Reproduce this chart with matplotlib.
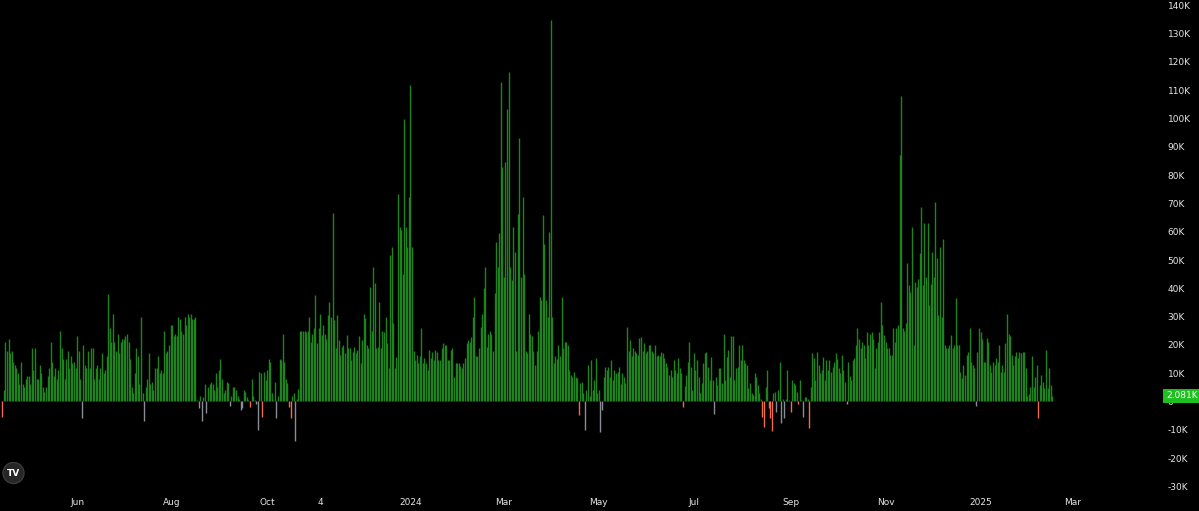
import pandas as pd
import matplotlib
matplotlib.use('Agg')
import matplotlib.pyplot as plt
from matplotlib.patches import Ellipse

# daily values in thousands, one list per month
apr23 = [-5.4, 4, 21, 18, 22, 17, 18, 14, 13, 12, 10, 6, 14, 6, 5, 8, 9]
may23 = [9, 6, 19, 11, 19, 8, 8, 13, 10, 5, 3.5, 5, 9, 12, 21, 14, 9, 12, 8, 11,
         25, 19, 15, 8, 15, 18, 12, 16, 13.5, 14, 12]
jun23 = [23, 18, 8, -6, 20, 13, 12, 18, 12, 19, 19, 8, 12, 13, 8, 12, 17, 10, 11, 16,
         38, 26, 21, 31, 21, 18, 24, 17, 21, 22]
jul23 = [22, 23, 24, 21, 15, 5, 3, 10, 19, 16, 6, 30, 3, -7, 5, 8, 17, 6, 7, 4,
         12, 12, 16, 10, 11, 10, 25, 17, 18, 20, 27]
aug23 = [27, 23, 24, 23, 30, 29, 25, 24, 30, 27, 31, 30, 31, 29, 29, 30, 0.5, -2.4, 2, -7,
         1.7, 6, -4, 5, 6, 7, 6, 4, 10, 5, 11]
sep23 = [15, 8, 3, 4, 7, 6.5, -1.5, 2, 5, 5, 4, 2, 1, -3, -2.4, 4, 3.5, 1.7, 0.5, -2,
         8, 2, 0.5, -1, -10, 10.5, 10, -5.5, 10.5, 7.5]
oct23 = [11, 15, 14, 3, 0.5, 7, -6, 2, 15, 14.5, 24, 14, 8, 6.5, -2, -6, 2, 3, -14, 1,
         4.5, 25, 25, 25, 25, 24.5, 25, 30, 21, 24, 26]
nov23 = [37.6, 20.6, 26, 31, 23.5, 27, 24, 22, 30.6, 35, 30, 66.5, 28.8, 18.8, 30.6, 21.7,
         16.4, 19.4, 20, 17, 23.5, 19, 19, 14.6, 17.6, 19.4, 17, 18.2, 23, 13.5]
dec23 = [21.7, 31, 29.4, 20, 19, 40.5, 25, 47.6, 41.7, 19, 19.4, 35, 19, 25, 24.7, 30,
         20.6, 12, 51.8, 54.7, 27.6, 12, 15.7, 73.5, 61.8, 60.6, 45, 100, 61.8, 54.7, 72.4]
jan24 = [112, 54.7, 18, 14.6, 16.4, 13.5, 16, 25.9, 13.5, 15.3, 13.5, 11, 18.2, 15.3, 17.6,
         14.6, 18.2, 17.6, 14.6, 14.6, 18.8, 20.6, 20, 20, 14.6, 14.6, 18.2, 18.8, 8.8, 13.5, 13.5]
feb24 = [13.5, 12.4, 11.8, 13.5, 15.3, 20.6, 21.7, 21, 22.9, 30, 37, 16, 16, 19, 26.4, 31,
         40, 47.6, 19.4, 24, 25, 24, 18, 38.2, 56.5, 47.6, 59.4, 113, 83]
mar24 = [44, 84.7, 103.5, 116.5, 47.6, 43, 61.7, 53, 18, 66.4, 93, 44, 72.3, 45, 18, 17,
         31, 24, 23, 18, 13, 18, 25, 37, 36, 65.8, 55.8, 36, 30, 60, 135]
apr24 = [30, 13.5, 16, 15, 20, 16, 37, 19, 21, 21, 20, 11, 9.4, 8.8, 10.5, 8.8, 8.2, -4.8,
         6.4, 7, 3, -10, 4, 12.9, 2, 14.6, 4, 7.6, 15.3, 3]
may24 = [4, -10.7, -3, 8.8, 12.3, 11, 12.3, 8.8, 14.6, 7.6, 11, 10, 10.5, 12.3, 6, 10, 8.8,
         6.4, 26.4, 18, 21.7, 16, 19, 18, 17, 16.4, 22.3, 22.9, 18, 20.5, 17]
jun24 = [18, 20, 20, 18, 17, 20, 15.9, 16.5, 15.9, 17.6, 17, 15.3, 13.5, 12.3, 9.4, 11, 8.8,
         14.6, 11, 10, 15.3, 12, 10, -2, 5.3, 9.4, 14, 21, 12.3, 4]
jul24 = [17, 11, 14.6, 8.8, 2.9, 6.4, 13.5, 17, 17.6, 12.3, 7.6, 15.8, 7.6, -4.4, 8.8, 5.8,
         11.7, 11.7, 6.4, 24, 7.6, 15.8, 18.2, 8.8, 23, 23, 7.6, 11.7, 12.3, 20, 14.7]
aug24 = [20, 14.7, 13.5, 12.9, 4.7, 6.4, 3, 2.4, 10, 8.8, 5.8, 3, 1, -5.4, -8.9, 5.2, 11.1,
         -2.4, -6, -10.6, 3, 3.5, -3.6, 4, 14, -7.7, 1, -6, 1, 11, 0.5]
sep24 = [-3.6, 7.6, 6.4, 5.8, 3.5, -1, 7.6, 0.5, -5.4, 1.7, 1.7, 1, -9.5, 5.2, 17, 15.3, 7.6,
         17.6, 13, 10, 11, 15.8, 7.6, 14.7, 11, 14.7, 10.5, 12.3, 14, 17]
oct24 = [15, 12, 10, 16.4, 11, 7, -1, 14, 9, 7.6, 14.7, 15.3, 20, 25.9, 22, 19, 21, 20, 15.3,
         24.7, 20, 24, 24.7, 22, 12, 18.8, 21, 24.7, 35, 27, 23.5]
nov24 = [21, 19, 18.8, 16.4, 16.4, 25.9, 21, 25.9, 27, 87, 108, 25.9, 25, 27.6, 48.8, 41,
         38.8, 61.8, 20, 42.3, 40.5, 43.4, 52.4, 68.8, 41, 63, 44, 63, 34, 41.6]
dec24 = [53, 44, 70.6, 50.6, 30.6, 54.7, 30, 57.6, 20, 19, 18.8, 20, 23.5, 18.8, 20, 36.4,
         20, 20, 10.5, 8.2, 12.9, 9.4, 16.4, 17.6, 25.9, 14, 12.9, 11.7, -1.5, 17.6, 25.9]
jan25 = [24.7, 22, 14, 14, 22.3, 21, 13, 10.5, 14, 12.9, 15.3, 14, 20, 10.5, 13, 10.5, 20.6,
         31, 24, 23, 16.4, 13, 16, 17.6, 15.3, 17.6, 17, 17.6, 17.6, 12, 2]
feb25 = [2.5, 5.2, 16, 5.2, 8.8, 13, -6, 5.8, 9.4, 7, 4.7, 18.2, 4.7, 11.7, 5.8, 2.081]

months = [('2023-04-14', apr23), ('2023-05-01', may23), ('2023-06-01', jun23),
          ('2023-07-01', jul23), ('2023-08-01', aug23), ('2023-09-01', sep23),
          ('2023-10-01', oct23), ('2023-11-01', nov23), ('2023-12-01', dec23),
          ('2024-01-01', jan24), ('2024-02-01', feb24), ('2024-03-01', mar24),
          ('2024-04-01', apr24), ('2024-05-01', may24), ('2024-06-01', jun24),
          ('2024-07-01', jul24), ('2024-08-01', aug24), ('2024-09-01', sep24),
          ('2024-10-01', oct24), ('2024-11-01', nov24), ('2024-12-01', dec24),
          ('2025-01-01', jan25), ('2025-02-01', feb25)]

# negative days drawn in orange (the rest of the negatives are grey)
orange_days = ['2023-04-14', '2023-09-20', '2023-09-28', '2023-10-15', '2023-10-16',
               '2024-04-18', '2024-06-24', '2024-08-14', '2024-08-15', '2024-08-19',
               '2024-08-20', '2024-09-01', '2024-09-06', '2024-09-13', '2024-10-07',
               '2025-02-07']

tick_dates = ['2023-06-01', '2023-08-01', '2023-10-01', '2023-11-04', '2024-01-01',
              '2024-03-01', '2024-05-01', '2024-07-01', '2024-09-01', '2024-11-01',
              '2025-01-01', '2025-03-01']
tick_labels = ['Jun', 'Aug', 'Oct', '4', '2024', 'Mar', 'May', 'Jul', 'Sep', 'Nov',
               '2025', 'Mar']

y_ticks = list(range(-30, 150, 10))
last_value = '2.081K'

frames = [pd.DataFrame({'date': pd.date_range(start, periods=len(vals)), 'value': vals})
          for start, vals in months]
df = pd.concat(frames, ignore_index=True)
df['value'] = df['value'] * 1000

green = '#1e851e'
orange = '#f26b4b'
grey = '#8a8d96'
orange_set = set(pd.to_datetime(orange_days))
colors = []
for d, v in zip(df['date'], df['value']):
    if v >= 0:
        colors.append(green)
    elif d in orange_set:
        colors.append(orange)
    else:
        colors.append(grey)

fig = plt.figure(figsize=(11.99, 5.11), dpi=100, facecolor='black')
ax = fig.add_axes([0, 19 / 511, 1155 / 1199, 492 / 511], facecolor='black')

ax.vlines(df['date'], 0, df['value'], colors=colors, linewidth=1.0)

ax.set_xlim(pd.Timestamp('2023-04-12 12:00'), pd.Timestamp('2025-04-23'))
ax.set_ylim(-32000, 141900)

for s in ax.spines.values():
    s.set_visible(False)

ax.yaxis.tick_right()
ax.set_yticks([v * 1000 for v in y_ticks])
ax.set_yticklabels(['0' if v == 0 else f'{v}K' for v in y_ticks])
ax.tick_params(axis='y', length=0, pad=9, labelsize=6.5, labelcolor='#e6e6e6')

ax.set_xticks(pd.to_datetime(tick_dates))
ax.set_xticklabels(tick_labels)
ax.tick_params(axis='x', length=0, pad=4, labelsize=6.5, labelcolor='#e6e6e6')

# last value tag on the price scale
ax.text(1.0095, 2081, last_value, transform=ax.get_yaxis_transform(), fontsize=6.5,
        color='white', va='center', ha='left', zorder=5,
        bbox=dict(boxstyle='square,pad=0.28', fc='#1fbf1f', ec='none'))

# tradingview badge
badge = Ellipse((13.5 / 1199, 38 / 511), 21 / 1199, 21 / 511, transform=fig.transFigure,
                facecolor='#262626', edgecolor='#3a3a3a', zorder=6)
fig.patches.append(badge)
fig.text(13.5 / 1199, 38 / 511, 'TV', color='white', fontsize=6.5, fontweight='bold',
         ha='center', va='center', zorder=7)

fig.savefig('out.png', dpi=100, facecolor='black')
